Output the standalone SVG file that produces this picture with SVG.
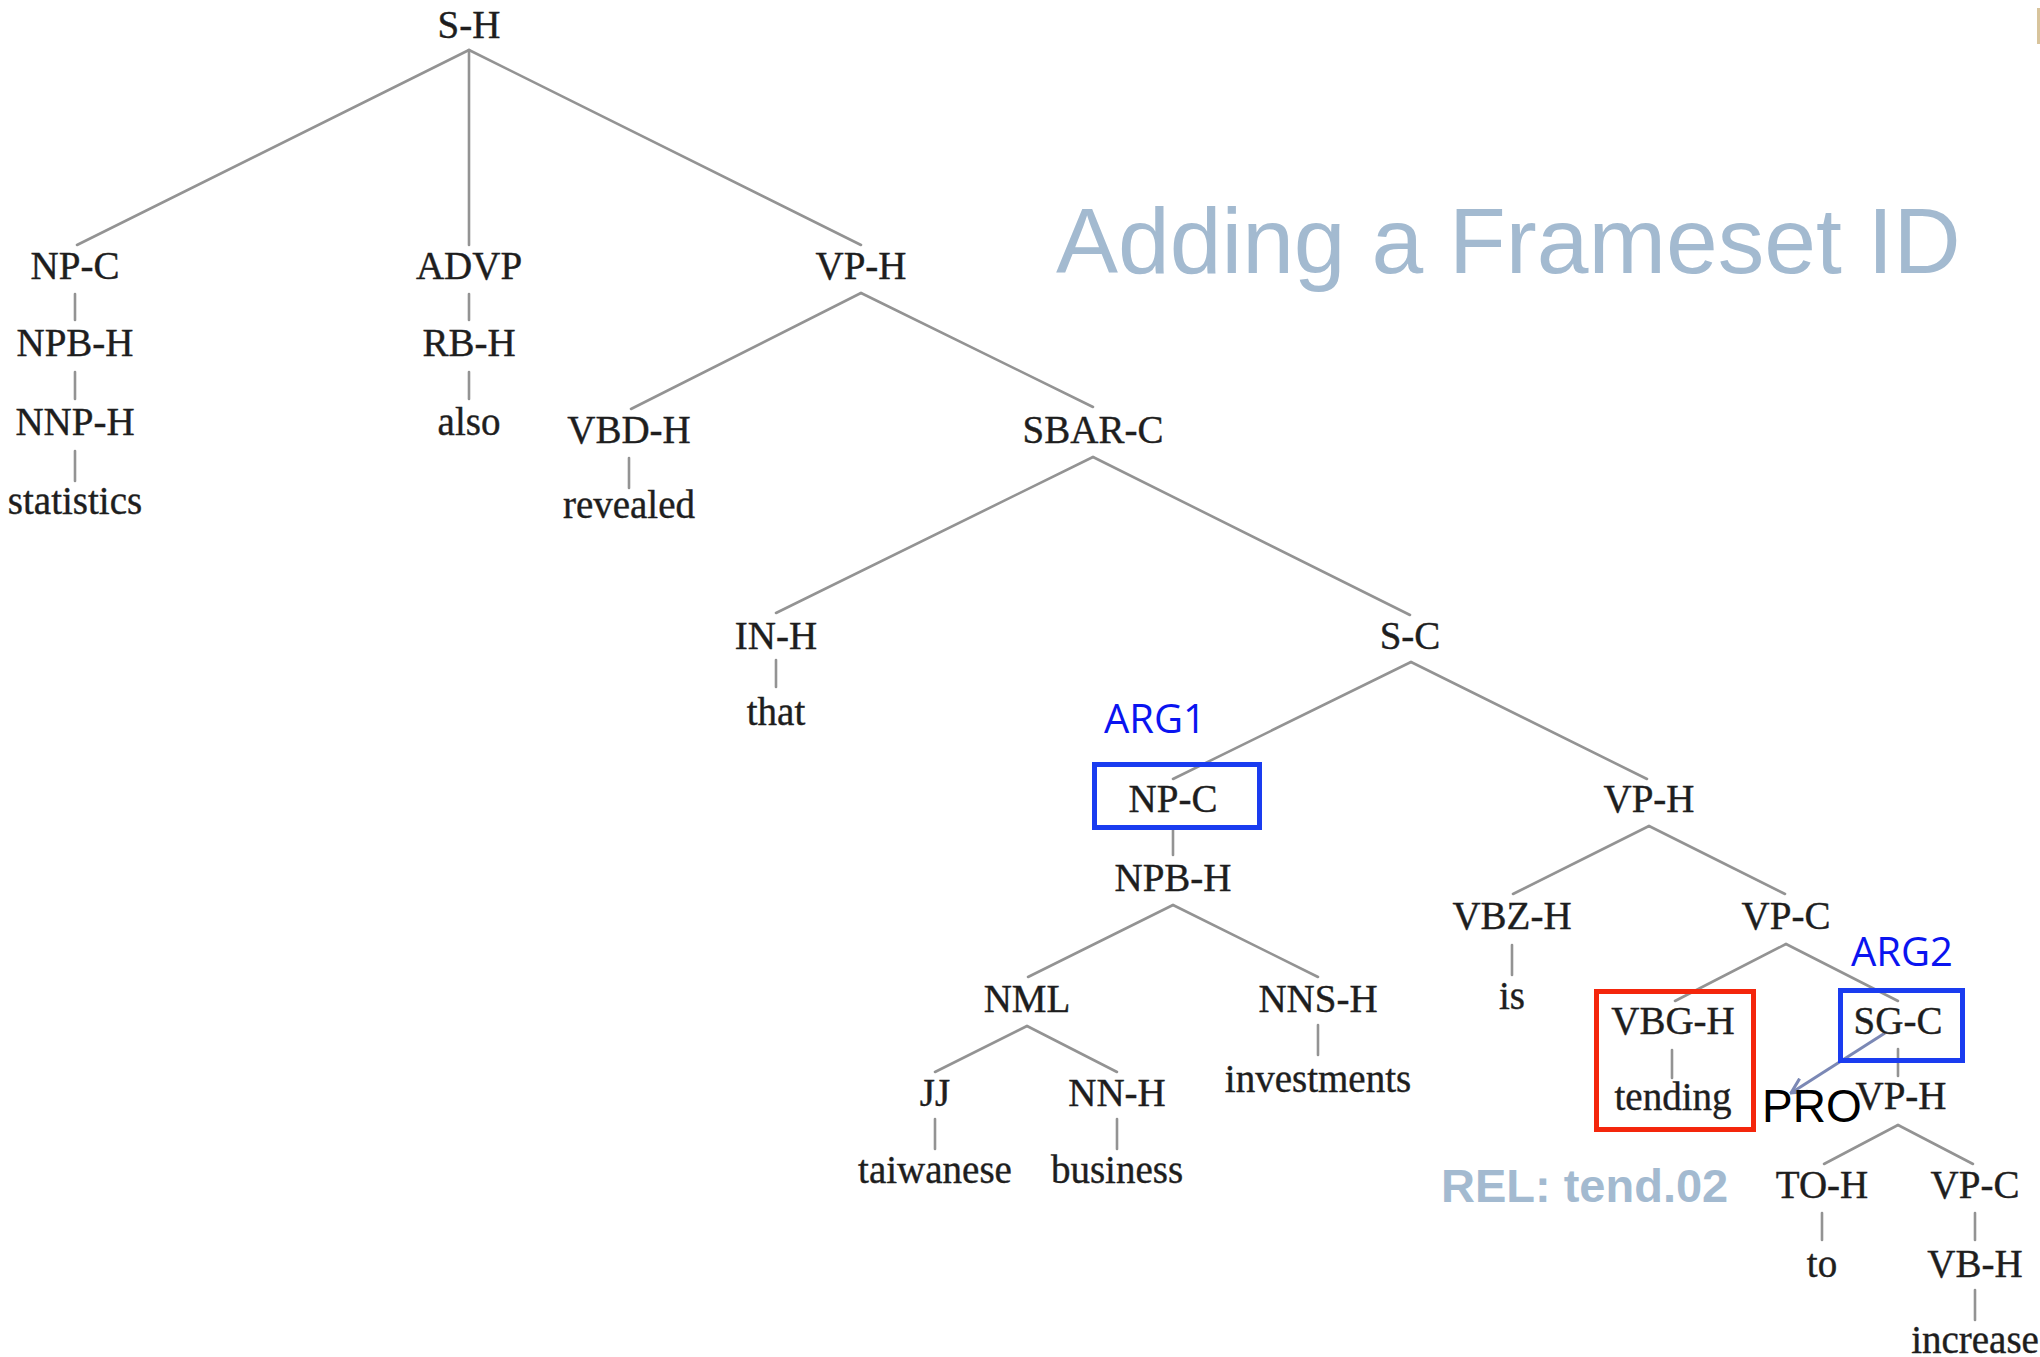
<svg xmlns="http://www.w3.org/2000/svg" width="2040" height="1357" viewBox="0 0 2040 1357">
<defs>
<style>
.t{font-family:"Liberation Serif","Times New Roman",serif;font-size:39px;fill:#1e1e1e;stroke:#1e1e1e;stroke-width:0.4;text-anchor:middle}
.e{stroke:#939393;stroke-width:2.6;fill:none;stroke-linecap:round}
.arg{font-family:"Open Sans","Liberation Sans",sans-serif;font-size:40px;fill:#0a14f0;text-anchor:middle}
.bb{fill:none;stroke:#1a3cf0;stroke-width:5}
.rb{fill:none;stroke:#f4260c;stroke-width:5}
.title{font-family:"Liberation Sans",Arial,sans-serif;fill:#a3bad0}
</style>
<marker id="ah" viewBox="0 0 12 12" refX="11" refY="6" markerWidth="6" markerHeight="6" orient="auto" markerUnits="strokeWidth">
<path d="M1,1 L11,6 L1,11" fill="none" stroke="#7b88b5" stroke-width="2"/>
</marker>
</defs>
<rect width="2040" height="1357" fill="#ffffff"/>
<line x1="2038.5" y1="8" x2="2038.5" y2="44" stroke="#d8c49c" stroke-width="3"/>
<text class="title" x="1056" y="273" font-size="93">Adding a Frameset ID</text>
<g id="connectors">
<line class="e" x1="469" y1="50" x2="77" y2="245"/>
<line class="e" x1="469" y1="50" x2="469" y2="245"/>
<line class="e" x1="469" y1="50" x2="861" y2="245"/>
<line class="e" x1="75" y1="294" x2="75" y2="320"/>
<line class="e" x1="75" y1="372" x2="75" y2="399"/>
<line class="e" x1="75" y1="451" x2="75" y2="481"/>
<line class="e" x1="469" y1="294" x2="469" y2="320"/>
<line class="e" x1="469" y1="372" x2="469" y2="399"/>
<line class="e" x1="861" y1="293" x2="631" y2="409"/>
<line class="e" x1="861" y1="293" x2="1093" y2="407"/>
<line class="e" x1="629" y1="458" x2="629" y2="488"/>
<line class="e" x1="1093" y1="457" x2="776" y2="613"/>
<line class="e" x1="1093" y1="457" x2="1410" y2="615"/>
<line class="e" x1="776" y1="660" x2="776" y2="687"/>
<line class="e" x1="1411" y1="662" x2="1173" y2="779"/>
<line class="e" x1="1411" y1="662" x2="1647" y2="779"/>
<line class="e" x1="1173" y1="830" x2="1173" y2="855"/>
<line class="e" x1="1173" y1="905" x2="1028" y2="977"/>
<line class="e" x1="1173" y1="905" x2="1318" y2="977"/>
<line class="e" x1="1318" y1="1025" x2="1318" y2="1055"/>
<line class="e" x1="1027" y1="1026" x2="935" y2="1072"/>
<line class="e" x1="1027" y1="1026" x2="1117" y2="1072"/>
<line class="e" x1="935" y1="1119" x2="935" y2="1149"/>
<line class="e" x1="1117" y1="1119" x2="1117" y2="1149"/>
<line class="e" x1="1649" y1="826" x2="1513" y2="894"/>
<line class="e" x1="1649" y1="826" x2="1785" y2="894"/>
<line class="e" x1="1512" y1="945" x2="1512" y2="975"/>
<line class="e" x1="1786" y1="944" x2="1675" y2="1001"/>
<line class="e" x1="1786" y1="944" x2="1898" y2="1001"/>
<line class="e" x1="1672" y1="1050" x2="1672" y2="1078"/>
<line class="e" x1="1898" y1="1049" x2="1898" y2="1076"/>
<line class="e" x1="1898" y1="1125" x2="1824" y2="1164"/>
<line class="e" x1="1898" y1="1125" x2="1973" y2="1164"/>
<line class="e" x1="1822" y1="1213" x2="1822" y2="1240"/>
<line class="e" x1="1975" y1="1213" x2="1975" y2="1240"/>
<line class="e" x1="1975" y1="1290" x2="1975" y2="1320"/>
<line x1="1885" y1="1033" x2="1791" y2="1093" stroke="#7b88b5" stroke-width="3" marker-end="url(#ah)"/>
</g>
<g id="n-sh"><text class="t" x="469" y="38">S-H</text></g>
<g id="n-npc1"><text class="t" x="75" y="279">NP-C</text></g>
<g id="n-advp"><text class="t" x="469" y="279">ADVP</text></g>
<g id="n-vph1"><text class="t" x="861" y="279">VP-H</text></g>
<g id="n-npbh1"><text class="t" x="75" y="356">NPB-H</text></g>
<g id="n-rbh"><text class="t" x="469" y="356">RB-H</text></g>
<g id="n-nnph"><text class="t" x="75" y="435">NNP-H</text></g>
<g id="n-also"><text class="t" x="469" y="435">also</text></g>
<g id="n-statistics"><text class="t" x="75" y="514">statistics</text></g>
<g id="n-vbdh"><text class="t" x="629" y="443">VBD-H</text></g>
<g id="n-revealed"><text class="t" x="629" y="518">revealed</text></g>
<g id="n-sbarc"><text class="t" x="1093" y="443">SBAR-C</text></g>
<g id="n-inh"><text class="t" x="776" y="649">IN-H</text></g>
<g id="n-that"><text class="t" x="776" y="725">that</text></g>
<g id="n-sc"><text class="t" x="1410" y="649">S-C</text></g>
<g id="n-npc2">
<text class="arg" x="1155" y="733">ARG1</text>
<rect class="bb" x="1094.5" y="764.5" width="165" height="63"/>
<text class="t" x="1173" y="812">NP-C</text>
</g>
<g id="n-npbh2"><text class="t" x="1173" y="891">NPB-H</text></g>
<g id="n-vph2"><text class="t" x="1649" y="812">VP-H</text></g>
<g id="n-nml"><text class="t" x="1027" y="1012">NML</text></g>
<g id="n-nnsh"><text class="t" x="1318" y="1012">NNS-H</text></g>
<g id="n-investments"><text class="t" x="1318" y="1092">investments</text></g>
<g id="n-jj"><text class="t" x="935" y="1106">JJ</text></g>
<g id="n-nnh"><text class="t" x="1117" y="1106">NN-H</text></g>
<g id="n-taiwanese"><text class="t" x="935" y="1183">taiwanese</text></g>
<g id="n-business"><text class="t" x="1117" y="1183">business</text></g>
<g id="n-vbzh"><text class="t" x="1512" y="929">VBZ-H</text></g>
<g id="n-is"><text class="t" x="1512" y="1009">is</text></g>
<g id="n-vpc1"><text class="t" x="1786" y="929">VP-C</text></g>
<g id="n-vbgh">
<rect class="rb" x="1596.5" y="991.5" width="157" height="138"/>
<text class="t" x="1673" y="1034">VBG-H</text>
</g>
<g id="n-tending"><text class="t" x="1673" y="1110">tending</text></g>
<g id="n-sgc">
<text class="arg" x="1902" y="966">ARG2</text>
<rect class="bb" x="1840.5" y="990.5" width="122" height="70"/>
<text class="t" x="1898" y="1034">SG-C</text>
</g>
<g id="n-vph3"><text class="t" x="1901" y="1109">VP-H</text></g>
<g id="n-pro"><text x="1762" y="1122" font-family="Liberation Sans,Arial,sans-serif" font-size="46" fill="#000000">PRO</text></g>
<g id="n-rel"><text class="title" x="1441" y="1202" font-size="47" font-weight="bold">REL: tend.02</text></g>
<g id="n-toh"><text class="t" x="1822" y="1198">TO-H</text></g>
<g id="n-to"><text class="t" x="1822" y="1277">to</text></g>
<g id="n-vpc2"><text class="t" x="1975" y="1198">VP-C</text></g>
<g id="n-vbh"><text class="t" x="1975" y="1277">VB-H</text></g>
<g id="n-increase"><text class="t" x="1975" y="1353">increase</text></g>
</svg>
